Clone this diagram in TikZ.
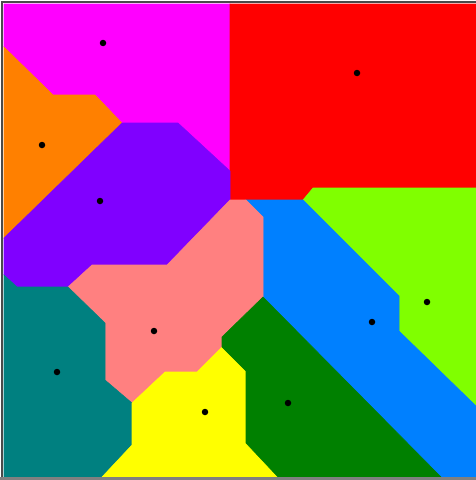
\documentclass[tikz,border=0pt]{standalone}
\usetikzlibrary{positioning}
\definecolor{cmagenta}{HTML}{FF00FF}
\definecolor{cred}{HTML}{FF0000}
\definecolor{corange}{HTML}{FF8000}
\definecolor{cpurple}{HTML}{8000FF}
\definecolor{clime}{HTML}{80FF00}
\definecolor{cblue}{HTML}{0080FF}
\definecolor{cpink}{HTML}{FF8080}
\definecolor{cteal}{HTML}{008080}
\definecolor{cyellow}{HTML}{FFFF00}
\definecolor{cdgreen}{HTML}{008000}
\definecolor{cframe}{HTML}{4A4A4A}
\tikzset{
  cell/.style={fill=#1, draw=#1, line width=0.3pt},
  site/.style={circle, fill=black, inner sep=0pt, minimum size=0.13cm},
  frame/.style={draw=cframe, line width=0.04cm},
}
\begin{document}
\begin{tikzpicture}[x=0.02cm, y=-0.02cm]
  \useasboundingbox (0,0) rectangle (476,480);
  \fill[white] (0,0) rectangle (476,480);
  % cells
  \fill[cell=cmagenta] (4,4) -- (230,4) -- (230,171) -- (178,123) -- (122,123) -- (95,95) -- (53,95) -- (4,47) -- cycle;
  \fill[cell=cred] (230,4) -- (476,4) -- (476,188) -- (313,188) -- (303,200) -- (230,200) -- cycle;
  \fill[cell=corange] (4,47) -- (53,95) -- (95,95) -- (122,123) -- (4,238) -- cycle;
  \fill[cell=cpurple] (122,123) -- (178,123) -- (230,171) -- (230,200) -- (167,265) -- (92,265) -- (68,287) -- (17,287) -- (4,275) -- (4,238) -- cycle;
  \fill[cell=clime] (313,188) -- (476,188) -- (476,406) -- (399,331) -- (399,296) -- (303,200) -- cycle;
  \fill[cell=cblue] (246,200) -- (303,200) -- (399,296) -- (399,331) -- (476,406) -- (476,477) -- (441,477) -- (263,297) -- (263,217) -- cycle;
  \fill[cell=cpink] (92,265) -- (167,265) -- (230,200) -- (246,200) -- (263,217) -- (263,297) -- (222,337) -- (222,347) -- (197,372) -- (165,372) -- (132,403) -- (105,380) -- (105,323) -- (68,287) -- cycle;
  \fill[cell=cteal] (4,275) -- (17,287) -- (68,287) -- (105,323) -- (105,380) -- (132,403) -- (132,445) -- (102,477) -- (4,477) -- cycle;
  \fill[cell=cyellow] (132,403) -- (165,372) -- (197,372) -- (222,347) -- (246,371) -- (246,443) -- (278,477) -- (102,477) -- (132,445) -- cycle;
  \fill[cell=cdgreen] (263,297) -- (441,477) -- (278,477) -- (246,443) -- (246,371) -- (222,347) -- (222,337) -- cycle;
  % frame
  \draw[frame] (2,480) -- (2,2) -- (476,2);
  \draw[draw=gray, line width=0.05cm] (0,478.5) -- (476,478.5);
  % sites
  \node[site] (magenta) at (103,43) {};
  \node[site] (red) at (357,73) {};
  \node[site] (orange) at (42,145) {};
  \node[site] (purple) at (100,201) {};
  \node[site] (lime) at (427,302) {};
  \node[site] (blue) at (372,322) {};
  \node[site] (pink) at (154,331) {};
  \node[site] (teal) at (57,372) {};
  \node[site] (yellow) at (205,412) {};
  \node[site] (dgreen) at (288,403) {};
\end{tikzpicture}
\end{document}
